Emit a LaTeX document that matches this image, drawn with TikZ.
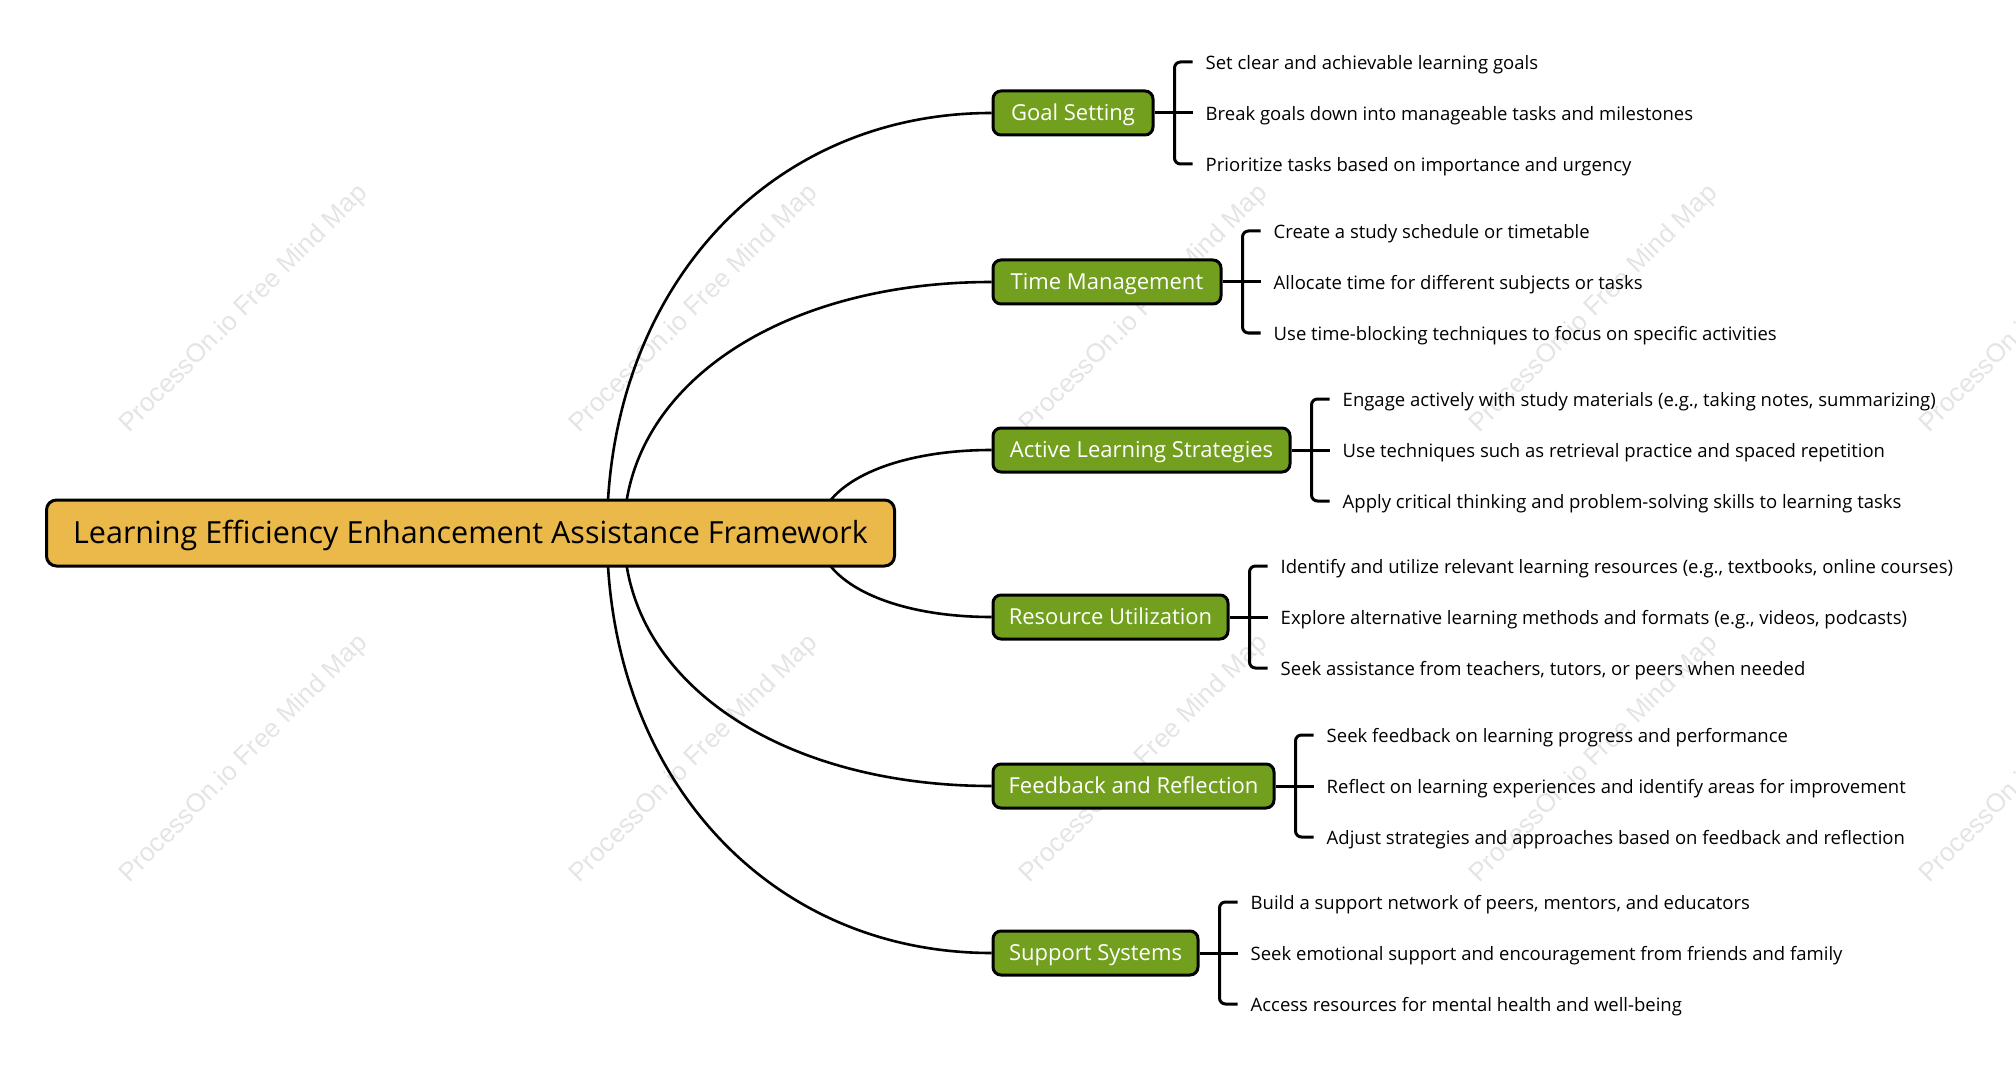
\documentclass[tikz,border=0pt]{standalone}
\usepackage{fontspec}
\setmainfont{Open Sans}
\newfontfamily\wmfont{Liberation Sans}
\usetikzlibrary{backgrounds,calc}
\definecolor{rootfill}{RGB}{235,184,74}
\definecolor{topicfill}{RGB}{114,159,30}
\definecolor{wmgray}{RGB}{228,228,228}
\begin{document}
\begin{tikzpicture}[x=1pt,y=-1pt,
  rootbox/.style={draw=black, line width=3pt, fill=rootfill, rounded corners=10pt,
    minimum height=66pt, minimum width=848pt, inner sep=0pt,
    text height=21.8pt, text depth=0pt,
    font=\fontsize{30.5}{36}\selectfont},
  topic/.style={draw=black, line width=3pt, fill=topicfill, rounded corners=8pt,
    minimum height=44pt, inner sep=0pt, text=white, anchor=west,
    text height=15.7pt, text depth=0pt,
    font=\fontsize{22}{26}\selectfont},
  leaf/.style={anchor=west, inner sep=0pt, text height=13.3pt, text depth=0pt,
    font=\fontsize{18.5}{22}\selectfont},
  link/.style={line width=2.6pt},
  brace/.style={line width=3pt, rounded corners=6pt},
  watermark/.style={text=wmgray, rotate=45, font=\wmfont\fontsize{26}{30}\selectfont}
]
\useasboundingbox (0,0) rectangle (2016,1083);

% root
\node[rootbox] (root) at (470.5,533) {Learning Efficiency Enhancement Assistance Framework};

% topics
\node[topic, minimum width=160pt] (t1) at (991.5,113) {Goal Setting};
\node[topic, minimum width=228pt] (t2) at (991.5,282) {Time Management};
\node[topic, minimum width=297pt] (t3) at (991.5,450) {Active Learning Strategies};
\node[topic, minimum width=235pt] (t4) at (991.5,617) {Resource Utilization};
\node[topic, minimum width=281pt] (t5) at (991.5,786) {Feedback and Reflection};
\node[topic, minimum width=205pt] (t6) at (991.5,953) {Support Systems};

% leaves
\foreach \t/\a/\b/\c in {
  t1/{Set clear and achievable learning goals}/{Break goals down into manageable tasks and milestones}/{Prioritize tasks based on importance and urgency},
  t2/{Create a study schedule or timetable}/{Allocate time for different subjects or tasks}/{Use time-blocking techniques to focus on specific activities},
  t3/{Engage actively with study materials (e.g., taking notes, summarizing)}/{Use techniques such as retrieval practice and spaced repetition}/{Apply critical thinking and problem-solving skills to learning tasks},
  t4/{Identify and utilize relevant learning resources (e.g., textbooks, online courses)}/{Explore alternative learning methods and formats (e.g., videos, podcasts)}/{Seek assistance from teachers, tutors, or peers when needed},
  t5/{Seek feedback on learning progress and performance}/{Reflect on learning experiences and identify areas for improvement}/{Adjust strategies and approaches based on feedback and reflection},
  t6/{Build a support network of peers, mentors, and educators}/{Seek emotional support and encouragement from friends and family}/{Access resources for mental health and well-being}} {
  \node[leaf] (\t a) at ($(\t.east)+(51,-50)$) {\a};
  \node[leaf] (\t b) at ($(\t.east)+(51,1)$) {\b};
  \node[leaf] (\t c) at ($(\t.east)+(51,52)$) {\c};
  \draw[brace] ($(\t a.west)+(-13,-1)$) -| ($(\t c.west)+(-31,-1)$) -- ($(\t c.west)+(-13,-1)$);
  \draw[brace] (\t.east) -- ($(\t b.west)+(-13,-1)$);
}

\coordinate (s1) at (607,533);
\coordinate (s2) at (624,533);
\coordinate (s3) at (818,533);

\begin{pgfonlayer}{background}
  \foreach \x in {244,694,1144,1594,2044}
    \foreach \y in {309,759}
      \node[watermark] (wm\x-\y) at (\x,\y) {ProcessOn.io Free Mind Map};
  \foreach \s/\t in {s1/t1, s2/t2, s3/t3, s3/t4, s2/t5, s1/t6}
    \draw[link] (\s) .. controls ($(\s)!0.58!(\s |- \t.west)$) and ($(\t.west)!0.58!(\s |- \t.west)$) .. (\t.west);
\end{pgfonlayer}
\end{tikzpicture}
\end{document}
